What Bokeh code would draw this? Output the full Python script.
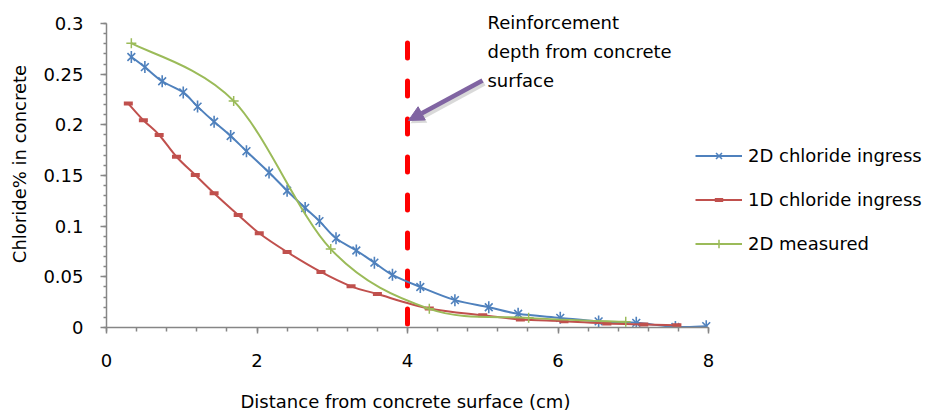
import numpy as np
from bokeh.plotting import figure
from bokeh.models import (Legend, LegendItem, Arrow, NormalHead, Label, FixedTicker,
                          CustomJSTickFormatter, ColumnDataSource, Title)
from bokeh.embed import file_html
from bokeh.resources import INLINE

# ---- data ----
x_2d = [0.33, 0.51, 0.74, 1.02, 1.21, 1.43, 1.65, 1.86, 2.16, 2.40, 2.64, 2.83, 3.05,
        3.32, 3.56, 3.80, 4.17, 4.63, 5.08, 5.47, 6.03, 6.54, 7.04, 7.56, 7.97]
y_2d = [0.267, 0.257, 0.243, 0.232, 0.218, 0.203, 0.189, 0.174, 0.153, 0.135, 0.118, 0.105, 0.088,
        0.076, 0.064, 0.052, 0.040, 0.027, 0.020, 0.0135, 0.0095, 0.006, 0.0046, 0.0005, 0.0013]

x_1d = [0.29, 0.49, 0.70, 0.93, 1.18, 1.43, 1.75, 2.03, 2.40, 2.85, 3.25, 3.60, 4.29,
        5.00, 5.50, 6.08, 6.65, 7.14, 7.58]
y_1d = [0.221, 0.2046, 0.190, 0.1685, 0.1505, 0.1325, 0.111, 0.093, 0.0745, 0.0548, 0.0406, 0.033, 0.0187,
        0.012, 0.0079, 0.0062, 0.0039, 0.003, 0.0023]

x_meas = [0.33, 1.69, 2.98, 4.29, 5.61, 6.90]
y_meas = [0.2806, 0.2236, 0.0774, 0.0184, 0.0095, 0.0056]

x_ticks = [0, 2, 4, 6, 8]
y_ticks = [0, 0.05, 0.1, 0.15, 0.2, 0.25, 0.3]
reinforcement_depth = 4
series_names = ["2D chloride ingress", "1D chloride ingress", "2D measured"]
annotation_lines = ["Reinforcement", "depth from concrete", "surface"]
x_title = "Distance from concrete surface (cm)"
y_title = "Chloride% in concrete"

BLUE, RED, GREEN, PURPLE = "#4F81BD", "#C0504D", "#9BBB59", "#8064A2"
FONT = "DejaVu Sans"
FS = "18px"
AXIS_GREY = "#868686"


def smooth_controls(xs, ys):
    """Bezier control points of a Catmull-Rom (Excel-like smoothed) line through the data."""
    x = np.asarray(xs, float)
    y = np.asarray(ys, float)
    n = len(x)
    xp = np.concatenate([[x[0]], x, [x[-1]]])
    yp = np.concatenate([[y[0]], y, [y[-1]]])
    i = np.arange(n - 1)
    cx0 = x[i] + (xp[i + 2] - xp[i]) / 6
    cy0 = y[i] + (yp[i + 2] - yp[i]) / 6
    cx1 = x[i + 1] - (xp[i + 3] - xp[i + 1]) / 6
    cy1 = y[i + 1] - (yp[i + 3] - yp[i + 1]) / 6
    return dict(x0=x[:-1], y0=y[:-1], x1=x[1:], y1=y[1:], cx0=cx0, cy0=cy0, cx1=cx1, cy1=cy1)


# frame spans to the right and top edges so legend and note are not clipped;
# the axes are limited to 0..8 and 0..0.3 by their bounds
p = figure(width=940, height=412, x_range=(0, 834 / 75.25), y_range=(0, 327 / 1013.3),
           output_backend="svg", toolbar_location=None,
           min_border_left=106, min_border_right=0, min_border_top=0, min_border_bottom=85)
p.outline_line_color = None
p.grid.visible = False
p.background_fill_color = "white"

# axes
p.xaxis.bounds = (0, 8)
p.yaxis.bounds = (0, 0.3)
p.xaxis.ticker = FixedTicker(ticks=x_ticks, minor_ticks=list(np.round(np.arange(0, 8.01, 0.4), 3)))
p.yaxis.ticker = FixedTicker(ticks=y_ticks, minor_ticks=list(np.round(np.arange(0, 0.301, 0.01), 3)))
p.yaxis.formatter = CustomJSTickFormatter(code="return Number(tick.toFixed(2)).toString();")
for ax in (p.xaxis, p.yaxis):
    ax.axis_line_color = AXIS_GREY
    ax.axis_line_width = 1.5
    ax.major_tick_line_color = AXIS_GREY
    ax.minor_tick_line_color = AXIS_GREY
    ax.major_tick_line_width = 1.5
    ax.minor_tick_line_width = 1.5
    ax.major_tick_in = 0
    ax.minor_tick_in = 0
    ax.major_label_text_font = FONT
    ax.major_label_text_font_size = FS
    ax.major_label_text_color = "black"
    ax.axis_label_text_font = FONT
    ax.axis_label_text_font_size = FS
    ax.axis_label_text_font_style = "normal"
    ax.axis_label_text_color = "black"
p.xaxis.major_tick_out = 6
p.xaxis.minor_tick_out = 4
p.yaxis.major_tick_out = 6
p.yaxis.minor_tick_out = 3
p.xaxis.major_label_standoff = 20
p.yaxis.major_label_standoff = 17
p.yaxis.axis_label = y_title
p.yaxis.axis_label_standoff = 10
# blank spacer label: pushes the x title lower without moving the tick labels
p.xaxis.axis_label = " "
p.xaxis.axis_label_text_font_size = "14px"
p.xaxis.axis_label_standoff = 0

# x-axis title centred under the 0..8 axis (the frame itself is wider)
p.add_layout(Title(text=x_title, align="left", offset=134, text_font=FONT,
                   text_font_size=FS, text_font_style="normal", text_color="black",
                   standoff=0), "below")

# reinforcement depth line
p.segment(x0=[reinforcement_depth], y0=[0.2808], x1=[reinforcement_depth], y1=[0],
          line_color="#FF0000", line_width=5, line_dash="15 23", line_cap="round")

# smoothed lines
items = []
styles = [
    (x_2d, y_2d, BLUE),
    (x_1d, y_1d, RED),
    (x_meas, y_meas, GREEN),
]
for k, (xs, ys, col) in enumerate(styles):
    src = ColumnDataSource(smooth_controls(xs, ys))
    p.bezier(x0="x0", y0="y0", x1="x1", y1="y1", cx0="cx0", cy0="cy0", cx1="cx1", cy1="cy1",
             source=src, line_color=col, line_width=2)
    leg_line = p.line(x=xs[:1], y=ys[:1], line_color=col, line_width=2)
    rends = [leg_line]
    if k == 0:
        rends.append(p.scatter(xs, ys, marker="x", size=11, line_color=col, line_width=1.6))
        rends.append(p.scatter(xs, ys, marker="dash", angle=np.pi / 2, size=12,
                               line_color=col, line_width=1.6))
    elif k == 1:
        rends.append(p.scatter(xs, ys, marker="dash", size=9, line_color=col, line_width=4))
    else:
        rends.append(p.scatter(xs, ys, marker="cross", size=10, line_color=col, line_width=1.5))
    items.append(LegendItem(label=series_names[k], renderers=rends))

legend = Legend(items=items, location=(589, 73), border_line_color=None,
                background_fill_alpha=0, padding=0, margin=0, spacing=23,
                glyph_height=21, glyph_width=47, label_standoff=6, label_height=21,
                label_text_font=FONT, label_text_font_size=FS, label_text_color="black")
p.add_layout(legend)

# arrow with shadow
p.add_layout(Arrow(end=NormalHead(size=15, fill_color="#000000", fill_alpha=0.15, line_alpha=0),
                   x_start=5.02, y_start=0.241, x_end=4.04, y_end=0.2015,
                   line_color="#000000", line_alpha=0.15, line_width=5))
p.add_layout(Arrow(end=NormalHead(size=15, fill_color=PURPLE, line_color=PURPLE, line_width=1),
                   x_start=4.997, y_start=0.2438, x_end=4.013, y_end=0.2043,
                   line_color=PURPLE, line_width=4.5))

# annotation text
for line_txt, yb in zip(annotation_lines, [0.3010, 0.2724, 0.2437]):
    p.add_layout(Label(x=5.063, y=yb, text=line_txt, text_font=FONT, text_font_size=FS,
                       text_color="black", text_baseline="alphabetic"))

open("out.html", "w").write(file_html(p, INLINE))
